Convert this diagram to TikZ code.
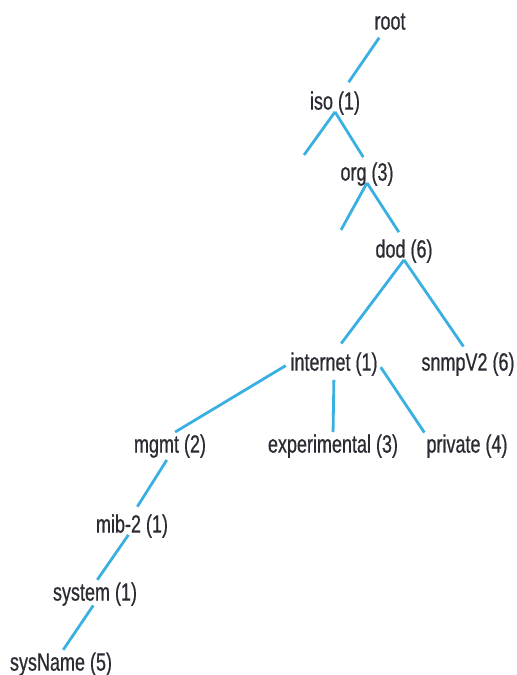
\documentclass[tikz,border=0pt]{standalone}
\usepackage{fontspec}
\setmainfont[FakeStretch=0.72,FakeBold=0.6]{Liberation Sans}
\usepackage{tikz}
\usetikzlibrary{positioning,calc}
\definecolor{Ink}{HTML}{2B2B33}
\definecolor{Sky}{HTML}{3AB0E2}

\begin{document}
\begin{tikzpicture}[x=0.5pt,y=-0.5pt,
    lbl/.style={inner sep=0pt,text height=0.855em,text depth=0.095em,text=Ink,
      font=\fontsize{12.5}{15}\selectfont},
    branch/.style={Sky,line width=1.4pt}]
    \useasboundingbox (0,0) rectangle (516,675);
    \node[lbl] (root) at (390,22) {root};
    \node[lbl] (iso) at (335,102) {iso (1)};
    \node[lbl] (org) at (367,173) {org (3)};
    \node[lbl] (dod) at (404,250) {dod (6)};
    \node[lbl] (internet) at (334,363) {internet (1)};
    \node[lbl] (snmp) at (468,363) {snmpV2 (6)};
    \node[lbl] (mgmt) at (170,445) {mgmt (2)};
    \node[lbl] (exper) at (333,445) {experimental (3)};
    \node[lbl] (private) at (467,445) {private (4)};
    \node[lbl] (mib) at (132,525) {mib-2 (1)};
    \node[lbl] (system) at (95,593) {system (1)};
    \node[lbl] (sysname) at (61,663) {sysName (5)};
    \coordinate (isoL) at (304,155);
    \coordinate (orgL) at (341,230);
    % upper part of the tree
    \draw[branch,shorten <=3.5pt,shorten >=6pt] (root) -- (iso);
    \draw[branch] (isoL) -- (iso.south);
    \draw[branch,shorten >=3.5pt] (iso.south) -- (org.north);
    \draw[branch] (orgL) -- (org.south);
    \draw[branch,shorten >=4.7pt] (org.south) -- (dod.north);
    \draw[branch,shorten >=6pt] (dod.south) -- (internet.north);
    \draw[branch,shorten >=4pt] (dod.south) -- (snmp.north);
    % internet subtree
    \draw[branch,shorten <=2.5pt,shorten >=3pt] (internet.west) -- (mgmt.north);
    \draw[branch,shorten <=3.5pt,shorten >=1.5pt] (internet.south) -- (exper.north);
    \draw[branch,shorten <=2.5pt,shorten >=1.5pt] (internet.east) -- (private.north west);
    \draw[branch,shorten <=3pt,shorten >=5pt] (mgmt.south) -- (mib.north);
    \draw[branch,shorten >=2pt] (mib.250) -- (system.north);
    \draw[branch,shorten <=1.5pt,shorten >=2pt] (system.south) -- (sysname.north);
\end{tikzpicture}
\end{document}
